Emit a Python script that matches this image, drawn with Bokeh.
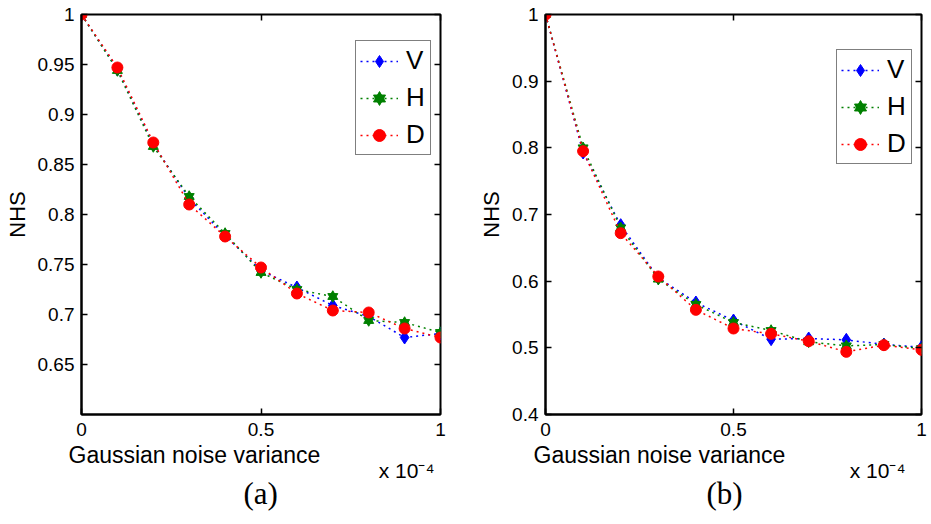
from bokeh.plotting import figure
from bokeh.layouts import row
from bokeh.models import (Range1d, LinearAxis, FixedTicker, PrintfTickFormatter,
                          Legend, LegendItem, Title)
from bokeh.embed import file_html
from bokeh.resources import INLINE

# ---------------- data ----------------
noise_var = [0.0, 0.1, 0.2, 0.3, 0.4, 0.5, 0.6, 0.7, 0.8, 0.9, 1.0]  # x 10^-4

V_a = [1.0, 0.945, 0.870, 0.816, 0.779, 0.744, 0.727, 0.709, 0.698, 0.677, 0.681]
H_a = [1.0, 0.944, 0.868, 0.818, 0.781, 0.742, 0.725, 0.718, 0.694, 0.692, 0.682]
D_a = [1.0, 0.947, 0.872, 0.810, 0.778, 0.747, 0.721, 0.704, 0.702, 0.686, 0.677]

V_b = [1.0, 0.793, 0.684, 0.605, 0.568, 0.541, 0.513, 0.514, 0.512, 0.505, 0.501]
H_b = [1.0, 0.800, 0.680, 0.603, 0.565, 0.538, 0.526, 0.509, 0.503, 0.505, 0.499]
D_b = [1.0, 0.795, 0.672, 0.607, 0.557, 0.529, 0.521, 0.510, 0.494, 0.504, 0.497]

x_ticks = [0, 0.5, 1]
y_ticks_a = [0.65, 0.7, 0.75, 0.8, 0.85, 0.9, 0.95, 1.0]
y_ticks_b = [0.4, 0.5, 0.6, 0.7, 0.8, 0.9, 1.0]

x_label = "Gaussian noise variance"
x_scale_note = "x 10\u207b\u2074"
y_label = "NHS"

FONT = "Liberation Sans"
SERIF = "Liberation Serif"
BLUE, GREEN, RED = "#0000ff", "#008000", "#ff0000"


def make_panel(V, H, D, y0, yticks, width, height, bl, br, bt, bb,
               legend_xy, tag, gauss_off, x10_off, tag_off):
    p = figure(width=width, height=height, x_range=Range1d(0, 1), y_range=Range1d(y0, 1),
               output_backend="svg", toolbar_location=None,
               min_border_left=bl, min_border_right=br, min_border_top=bt, min_border_bottom=bb)
    p.xgrid.visible = False
    p.ygrid.visible = False
    p.outline_line_color = "black"
    p.outline_line_width = 2
    p.background_fill_color = "white"
    p.border_fill_color = "white"

    fmt = PrintfTickFormatter(format="%g")
    for ax, ticks in ((p.xaxis[0], x_ticks), (p.yaxis[0], yticks)):
        ax.ticker = FixedTicker(ticks=ticks)
        ax.formatter = fmt
        ax.major_tick_in = 6
        ax.major_tick_out = 0
        ax.minor_tick_line_color = None
        ax.axis_line_width = 2
        ax.major_tick_line_width = 1.5
        ax.major_label_text_font = FONT
        ax.major_label_text_font_size = "19px"
        ax.major_label_text_color = "black"
    p.xaxis[0].major_label_standoff = 8
    p.yaxis[0].major_label_standoff = 7
    p.yaxis[0].axis_label = y_label
    p.yaxis[0].axis_label_text_font = FONT
    p.yaxis[0].axis_label_text_font_size = "22px"
    p.yaxis[0].axis_label_text_font_style = "normal"
    p.yaxis[0].axis_label_text_color = "black"
    p.yaxis[0].axis_label_standoff = 5

    # mirrored ticks (box), without labels
    for side, ticks in (("right", yticks), ("above", x_ticks)):
        ax = LinearAxis(ticker=FixedTicker(ticks=ticks))
        ax.major_tick_in = 6
        ax.major_tick_out = 0
        ax.minor_tick_line_color = None
        ax.axis_line_color = None
        ax.major_tick_line_width = 1.5
        ax.major_label_overrides = {t: "" for t in ticks}
        ax.major_label_text_font_size = "0px"
        ax.major_label_standoff = 0
        p.add_layout(ax, side)

    dash = "2 4"
    rv = p.line(noise_var, V, line_color=BLUE, line_dash=dash, line_width=1.5)
    sv = p.scatter(noise_var, V, marker="diamond", size=13, fill_color=BLUE, line_color=BLUE)
    rh = p.line(noise_var, H, line_color=GREEN, line_dash=dash, line_width=1.5)
    sh1 = p.scatter(noise_var, H, marker="triangle", size=10, fill_color=GREEN, line_color=GREEN)
    sh2 = p.scatter(noise_var, H, marker="inverted_triangle", size=10, fill_color=GREEN, line_color=GREEN)
    rd = p.line(noise_var, D, line_color=RED, line_dash=dash, line_width=1.5)
    sd = p.scatter(noise_var, D, marker="circle", size=11, fill_color=RED, line_color=RED)

    legend = Legend(items=[LegendItem(label="V", renderers=[rv, sv]),
                           LegendItem(label="H", renderers=[rh, sh1, sh2]),
                           LegendItem(label="D", renderers=[rd, sd])],
                    location=legend_xy)
    legend.label_text_font = FONT
    legend.label_text_font_size = "26px"
    legend.label_text_color = "black"
    legend.glyph_width = 38
    legend.glyph_height = 30
    legend.label_height = 30
    legend.label_standoff = 8
    legend.spacing = 6
    legend.padding = 4
    legend.margin = 0
    legend.border_line_color = "black"
    legend.border_line_width = 1
    legend.background_fill_alpha = 1
    p.add_layout(legend, "center")

    # texts under the x axis, stacked as titles
    p.add_layout(Title(text=x_label, align="left", offset=gauss_off, standoff=2,
                       text_font=FONT, text_font_size="23px", text_font_style="normal",
                       text_color="black"), "below")
    p.add_layout(Title(text=x_scale_note, align="right", offset=x10_off, standoff=-23,
                       text_font=FONT, text_font_size="21px", text_font_style="normal",
                       text_color="black"), "below")
    p.add_layout(Title(text=tag, align="left", offset=tag_off, standoff=6,
                       text_font=SERIF, text_font_size="31px", text_font_style="normal",
                       text_color="black"), "below")
    return p


pa = make_panel(V_a, H_a, D_a, 0.6, y_ticks_a, 466, 524, 81, 26, 13, 109,
                (274, 259), "(a)", -13, 6, 162)
pb = make_panel(V_b, H_b, D_b, 0.4, y_ticks_b, 465, 524, 79, 10, 14, 110,
                (291, 250), "(b)", -12, 16, 161)

layout = row(pa, pb)
open("out.html", "w").write(file_html(layout, INLINE))
